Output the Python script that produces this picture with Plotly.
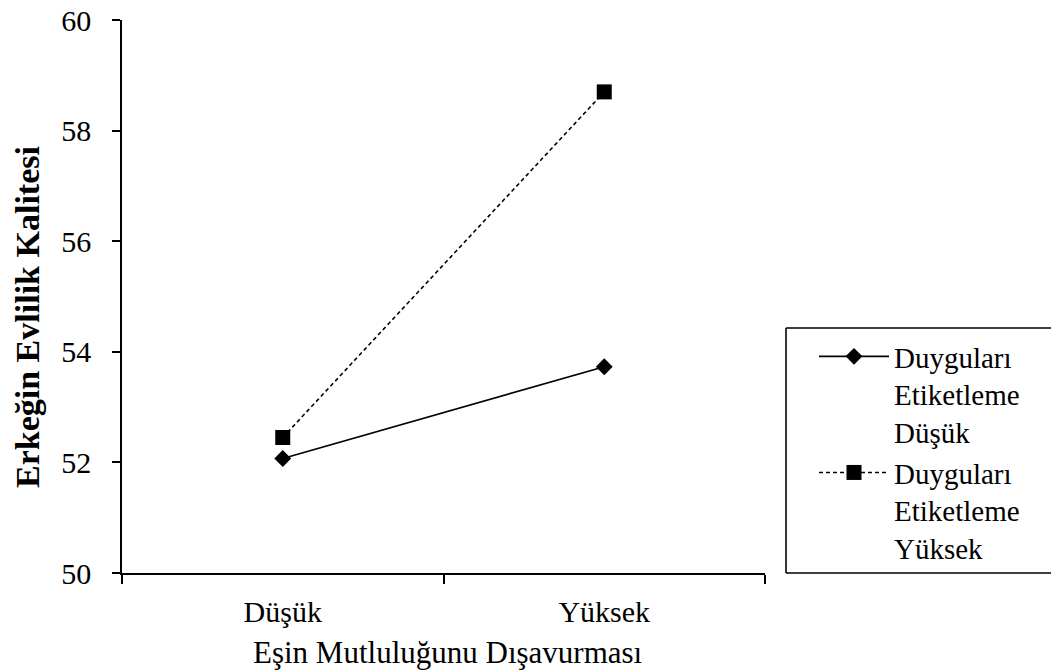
import plotly.graph_objects as go

categories = ["Düşük", "Yüksek"]
series_names = ["Duyguları<br>Etiketleme<br>Düşük", "Duyguları<br>Etiketleme<br>Yüksek"]
low_values = [52.07, 53.73]
high_values = [52.45, 58.70]
y_ticks = [50, 52, 54, 56, 58, 60]
x_title = "Eşin Mutluluğunu Dışavurması"
y_title = "Erkeğin Evlilik Kalitesi"

FONT = "Liberation Serif, Times New Roman, serif"

fig = go.Figure()
fig.add_trace(go.Scatter(
    x=categories, y=low_values, name=series_names[0], mode="lines+markers",
    line=dict(color="black", width=1.7),
    marker=dict(symbol="diamond", size=13, color="black"),
))
fig.add_trace(go.Scatter(
    x=categories, y=high_values, name=series_names[1], mode="lines+markers",
    line=dict(color="black", width=1.6, dash="4px,3px"),
    marker=dict(symbol="square", size=15, color="black"),
))

OFF = 0  # page body margin removed via post_script
W, H = 1051, 670
L, T = 122 - OFF, 20 - OFF
R = W - (765 - OFF)
B = H - (573 - OFF)
pw, ph = W - L - R, H - T - B

def px_x(x):
    return (x - OFF - L) / pw

def px_y(y):
    return (H - B - (y - OFF)) / ph

box_l, box_r, box_t, box_b = px_x(786), px_x(1300), px_y(328), px_y(573)
box_line = dict(color="black", width=1.6)

fig.update_layout(
    width=W, height=H,
    margin=dict(l=L, r=R, t=T, b=B, pad=0, autoexpand=False),
    paper_bgcolor="white", plot_bgcolor="white",
    font=dict(family=FONT, size=30, color="black"),
    showlegend=True,
    legend=dict(
        x=px_x(814), xanchor="left",
        y=px_y(331), yanchor="top",
        bgcolor="rgba(255,255,255,0)", borderwidth=0,
        font=dict(family=FONT, size=29, color="black"),
        itemwidth=70, valign="top", tracegroupgap=6,
    ),
    xaxis=dict(
        type="category", range=[-0.5, 1.5],
        showline=True, linecolor="black", linewidth=1.6,
        ticks="outside", tickson="boundaries", ticklen=9, tickwidth=1.6, tickcolor="black",
        showgrid=False, zeroline=False, ticklabelstandoff=11,
        ticklabeloverflow="allow",
        tickfont=dict(family=FONT, size=30),
    ),
    yaxis=dict(
        range=[50, 60], tickvals=y_ticks,
        showline=True, linecolor="black", linewidth=1.6,
        ticks="outside", ticklen=8, tickwidth=1.6, tickcolor="black",
        showgrid=False, zeroline=False, ticklabelstandoff=15,
        ticklabeloverflow="allow",
        tickfont=dict(family=FONT, size=30),
    ),
    shapes=[
        dict(type="line", xref="paper", yref="paper", x0=box_l, x1=box_r, y0=box_t, y1=box_t, line=box_line),
        dict(type="line", xref="paper", yref="paper", x0=box_l, x1=box_r, y0=box_b, y1=box_b, line=box_line),
        dict(type="line", xref="paper", yref="paper", x0=box_l, x1=box_l, y0=box_b, y1=box_t, line=box_line),
    ],
    annotations=[
        dict(text=x_title, xref="paper", yref="paper",
             x=px_x(448), y=px_y(652), xanchor="center", yanchor="middle",
             showarrow=False, font=dict(family=FONT, size=31)),
        dict(text="<b>" + y_title + "</b>", xref="paper", yref="paper",
             x=px_x(27), y=px_y(317), xanchor="center", yanchor="middle",
             textangle=-90, showarrow=False, font=dict(family=FONT, size=34)),
    ],
)

fig.write_html(
    "out.html",
    config={"displayModeBar": False},
    post_script="document.body.style.margin='0';document.body.style.overflow='hidden';",
)
